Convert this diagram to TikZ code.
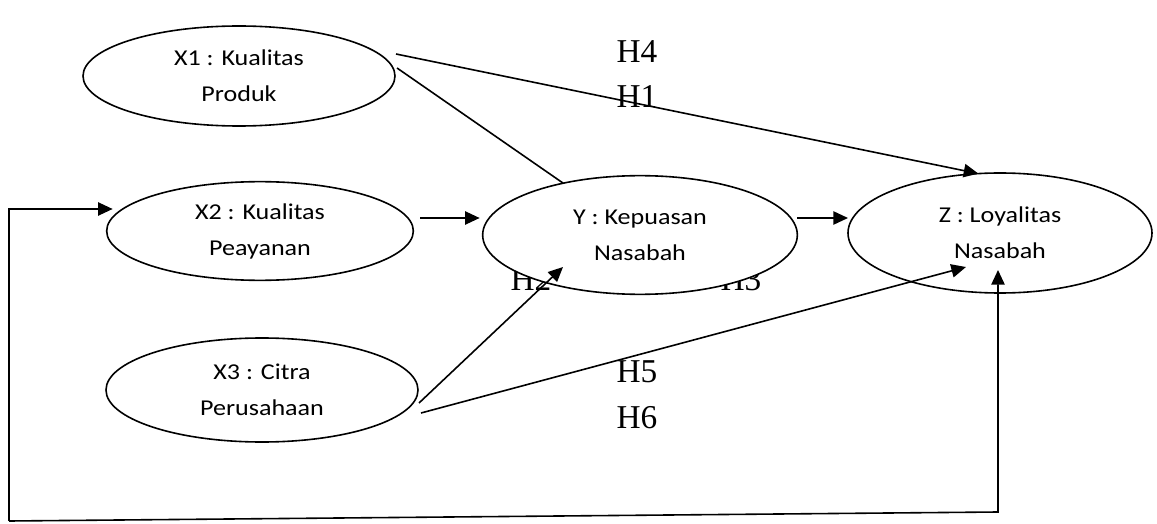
\documentclass[tikz,border=0pt]{standalone}
\usepackage{fontspec}
\setmainfont[FakeStretch=1.15]{Carlito}
\newfontfamily\hfont{Liberation Serif}
\usetikzlibrary{shapes.geometric,arrows.meta,calc}

\tikzset{
  var/.style={ellipse,draw,fill=white,line width=1.2pt,minimum width=234pt,minimum height=75pt,
    inner sep=0pt,outer sep=0pt,align=center,font=\fontsize{17}{27}\selectfont},
  hyp/.style={anchor=base,inner sep=0pt,font=\hfont\fontsize{25}{30}\selectfont},
  arr/.style={-{Triangle[length=11pt,width=10pt]},line width=1.2pt},
}

\begin{document}
\begin{tikzpicture}[x=0.75pt,y=-0.75pt]
  \useasboundingbox (0,0) rectangle (1157,524);
  % hipotesis
  \node[hyp] (h4) at (637,63) {H4};
  \node[hyp] (h1) at (637,108) {H1};
  \node[hyp] (h2) at (531,290) {H2};
  \node[hyp] (h3) at (741,290) {H3};
  \node[hyp] (h5) at (637,382) {H5};
  \node[hyp] (h6) at (637,428) {H6};
  % variabel
  \node[var] (x1) at (239,76) {X1 : Kualitas\\Produk};
  \node[var,minimum width=230pt,minimum height=74pt] (x2) at (260,231) {X2 : Kualitas\\Peayanan};
  \node[var,minimum height=78pt] (x3) at (262,390) {X3 : Citra\\Perusahaan};
  \node[var,minimum width=236pt,minimum height=89pt] (y) at (640,235) {Y : Kepuasan\\Nasabah};
  \node[var,minimum width=228pt,minimum height=90pt] (z) at (1000,233) {Z : Loyalitas\\Nasabah};
  % jalur
  \draw[line width=1.2pt] ($(x1.east)+(2,-8)$) -- (y.146);
  \draw[arr] ($(x1.east)+(1,-22)$) -- (z.110);
  \draw[arr] ($(x2.east)+(7,-13)$) -- ($(y.west)+(-3,-17)$);
  \draw[arr] ($(y.east)+(0,-17)$) -- ($(z.west)+(0,-15)$);
  \draw[arr] ($(x3.east)+(1,13)$) -- ($(y)+(-77,32)$);
  \draw[arr] ($(x3.east)+(3,23)$) -- ($(z)+(-34,34)$);
  % umpan balik
  \coordinate (fbl) at (9,521);
  \coordinate (fbr) at (998,512);
  \draw[arr] (fbl) |- ($(x2.west)+(6,-22)$);
  \draw[arr] (fbl) -- (fbr) -- ($(z)+(-2,37)$);
\end{tikzpicture}
\end{document}
